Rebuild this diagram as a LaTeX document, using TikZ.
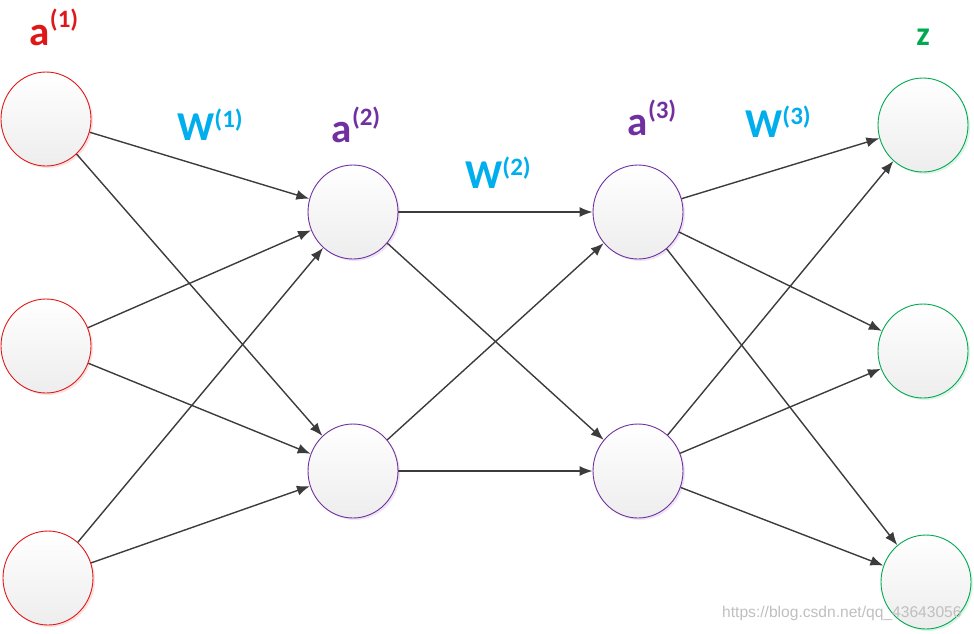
\documentclass[tikz,border=0pt]{standalone}
\usepackage{fontspec}
\setmainfont{Carlito}
\usepackage{xcolor}
\usetikzlibrary{shapes.geometric, arrows.meta, shadows}

\definecolor{inred}{RGB}{222,24,24}
\definecolor{hidpurple}{RGB}{112,48,160}
\definecolor{wblue}{RGB}{0,174,238}
\definecolor{outgreen}{RGB}{0,168,80}
\definecolor{edgegray}{RGB}{60,60,60}
\newcommand{\lbl}[3][18pt]{\bfseries\fontsize{41}{41}\selectfont #2\raisebox{#1}{\fontsize{25}{25}\selectfont(#3)}}

\tikzset{
    neuron/.style={ellipse, minimum width=90pt, minimum height=94pt, inner sep=0pt,
        line width=0.9pt, top color=white, bottom color=black!7,
        drop shadow={shadow xshift=2pt, shadow yshift=-2pt, fill=#1!25, opacity=0.5},
        draw=#1},
    link/.style={edgegray, line width=1.4pt, -{Latex[length=13pt, width=10pt]}},
}

\begin{document}
\begin{tikzpicture}[x=1pt, y=-1pt]
        \useasboundingbox (0, 0) rectangle (974, 633);
        % layers
        \node[neuron=inred] (i1) at (46, 119) {};
        \node[neuron=inred] (i2) at (46, 346) {};
        \node[neuron=inred] (i3) at (48, 578) {};
        \node[neuron=hidpurple] (h1) at (353, 212) {};
        \node[neuron=hidpurple] (h2) at (353, 471) {};
        \node[neuron=hidpurple] (g1) at (638, 212) {};
        \node[neuron=hidpurple] (g2) at (638, 471) {};
        \node[neuron=outgreen] (o1) at (923, 125) {};
        \node[neuron=outgreen] (o2) at (923, 351) {};
        \node[neuron=outgreen] (o3) at (926, 582) {};
        % labels
        \node[anchor=base, text=inred, inner sep=0pt] (la1) at (54, 45) {\lbl{a}{1}};
        \node[anchor=base, text=wblue, inner sep=0pt] (lw1) at (210, 140) {\lbl[13pt]{W}{1}};
        \node[anchor=base, text=hidpurple, inner sep=0pt] (la2) at (356, 142) {\lbl[17pt]{a}{2}};
        \node[anchor=base, text=wblue, inner sep=0pt] (lw2) at (498, 188) {\lbl[13pt]{W}{2}};
        \node[anchor=base, text=hidpurple, inner sep=0pt] (la3) at (652, 135) {\lbl[17pt]{a}{3}};
        \node[anchor=base, text=wblue, inner sep=0pt] (lw3) at (778, 137) {\lbl[13pt]{W}{3}};
        \node[anchor=base, text=outgreen, inner sep=0pt, font=\bfseries\fontsize{34}{34}\selectfont] (lz) at (923, 45) {z};
        % edges
        \draw[link] (i1) -- (h1);
        \draw[link] (i1) -- (h2);
        \draw[link] (i2) -- (h1);
        \draw[link] (i2) -- (h2);
        \draw[link] (i3) -- (h1);
        \draw[link] (i3) -- (h2);
        \draw[link] (h1) -- (g1);
        \draw[link] (h1) -- (g2);
        \draw[link] (h2) -- (g1);
        \draw[link] (h2) -- (g2);
        \draw[link] (g1) -- (o1);
        \draw[link] (g1) -- (o2);
        \draw[link] (g1) -- (o3);
        \draw[link] (g2) -- (o1);
        \draw[link] (g2) -- (o2);
        \draw[link] (g2) -- (o3);
        % watermark
        \node[anchor=base west, text=black!25, inner sep=0pt,
            font=\fontspec{Liberation Sans}\fontsize{15.6}{15.6}\selectfont] (mark) at (722, 617) {https://blog.csdn.net/qq\_43643056};
\end{tikzpicture}
\end{document}
